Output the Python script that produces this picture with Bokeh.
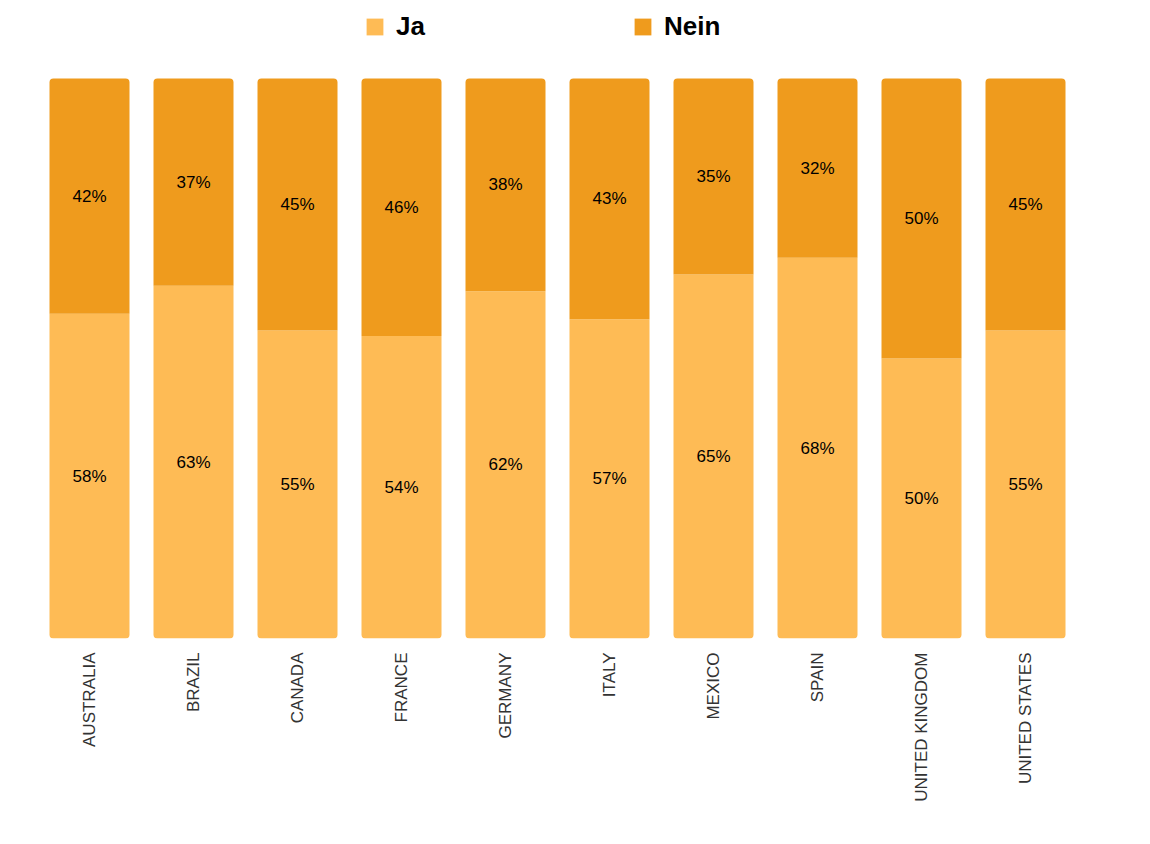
import math
from bokeh.plotting import figure
from bokeh.models import ColumnDataSource, Legend, LegendItem, FactorRange, Range1d
from bokeh.core.properties import value
from bokeh.embed import file_html
from bokeh.resources import INLINE

countries = ["AUSTRALIA", "BRAZIL", "CANADA", "FRANCE", "GERMANY", "ITALY",
             "MEXICO", "SPAIN", "UNITED KINGDOM", "UNITED STATES"]
ja = [58, 63, 55, 54, 62, 57, 65, 68, 50, 55]
nein = [42, 37, 45, 46, 38, 43, 35, 32, 50, 45]

JA_COLOR = "#FEBB55"
NEIN_COLOR = "#EF9B1D"

tot = [a + b for a, b in zip(ja, nein)]
ja_f = [a / t for a, t in zip(ja, tot)]
nein_f = [b / t for b, t in zip(nein, tot)]

src = ColumnDataSource(dict(
    country=countries,
    ja=ja_f,
    nein_top=[1.0] * len(countries),
    ja_mid=[a / 2 for a in ja_f],
    nein_mid=[a + b / 2 for a, b in zip(ja_f, nein_f)],
    ja_lbl=[f"{v}%" for v in ja],
    nein_lbl=[f"{v}%" for v in nein],
))

p = figure(x_range=FactorRange(*countries, range_padding=0),
           y_range=Range1d(0, 638 / 560),
           frame_width=1040, frame_height=638,
           min_border_left=37, min_border_right=41, min_border_top=0,
           min_border_bottom=150,
           output_backend="svg", toolbar_location=None, tools="")

r_ja = p.vbar(x="country", bottom=0, top="ja", width=80 / 104, source=src,
              fill_color=JA_COLOR, line_color=None,
              border_radius=(0, 0, 4, 4))
r_nein = p.vbar(x="country", bottom="ja", top="nein_top", width=80 / 104, source=src,
                fill_color=NEIN_COLOR, line_color=None,
                border_radius=(4, 4, 0, 0))

for ycol, tcol in (("ja_mid", "ja_lbl"), ("nein_mid", "nein_lbl")):
    p.text(x="country", y=ycol, text=tcol, source=src,
           text_align="center", text_baseline="middle",
           text_font=value("Liberation Sans"), text_font_size="17px",
           text_color="#000000")

legend = Legend(items=[LegendItem(label="Ja", renderers=[r_ja]),
                       LegendItem(label="Nein", renderers=[r_nein])],
                orientation="horizontal", location=(327, 596),
                glyph_width=21, glyph_height=21, label_height=21,
                label_standoff=11, spacing=207, padding=0, margin=0,
                label_text_font="Liberation Sans", label_text_font_size="26px",
                label_text_font_style="bold", label_text_color="#000000",
                border_line_color=None, background_fill_alpha=0)
p.add_layout(legend, "center")

p.yaxis.visible = False
p.xgrid.visible = False
p.ygrid.visible = False
p.outline_line_color = None
p.xaxis.axis_line_color = None
p.xaxis.major_tick_line_color = None
p.xaxis.minor_tick_line_color = None
p.xaxis.major_tick_out = 0
p.xaxis.major_label_standoff = 14
p.xaxis.major_label_orientation = math.pi / 2
p.xaxis.major_label_text_font = "Liberation Sans"
p.xaxis.major_label_text_font_size = "17px"
p.xaxis.major_label_text_color = "#333333"

open("out.html", "w").write(file_html(p, INLINE))
